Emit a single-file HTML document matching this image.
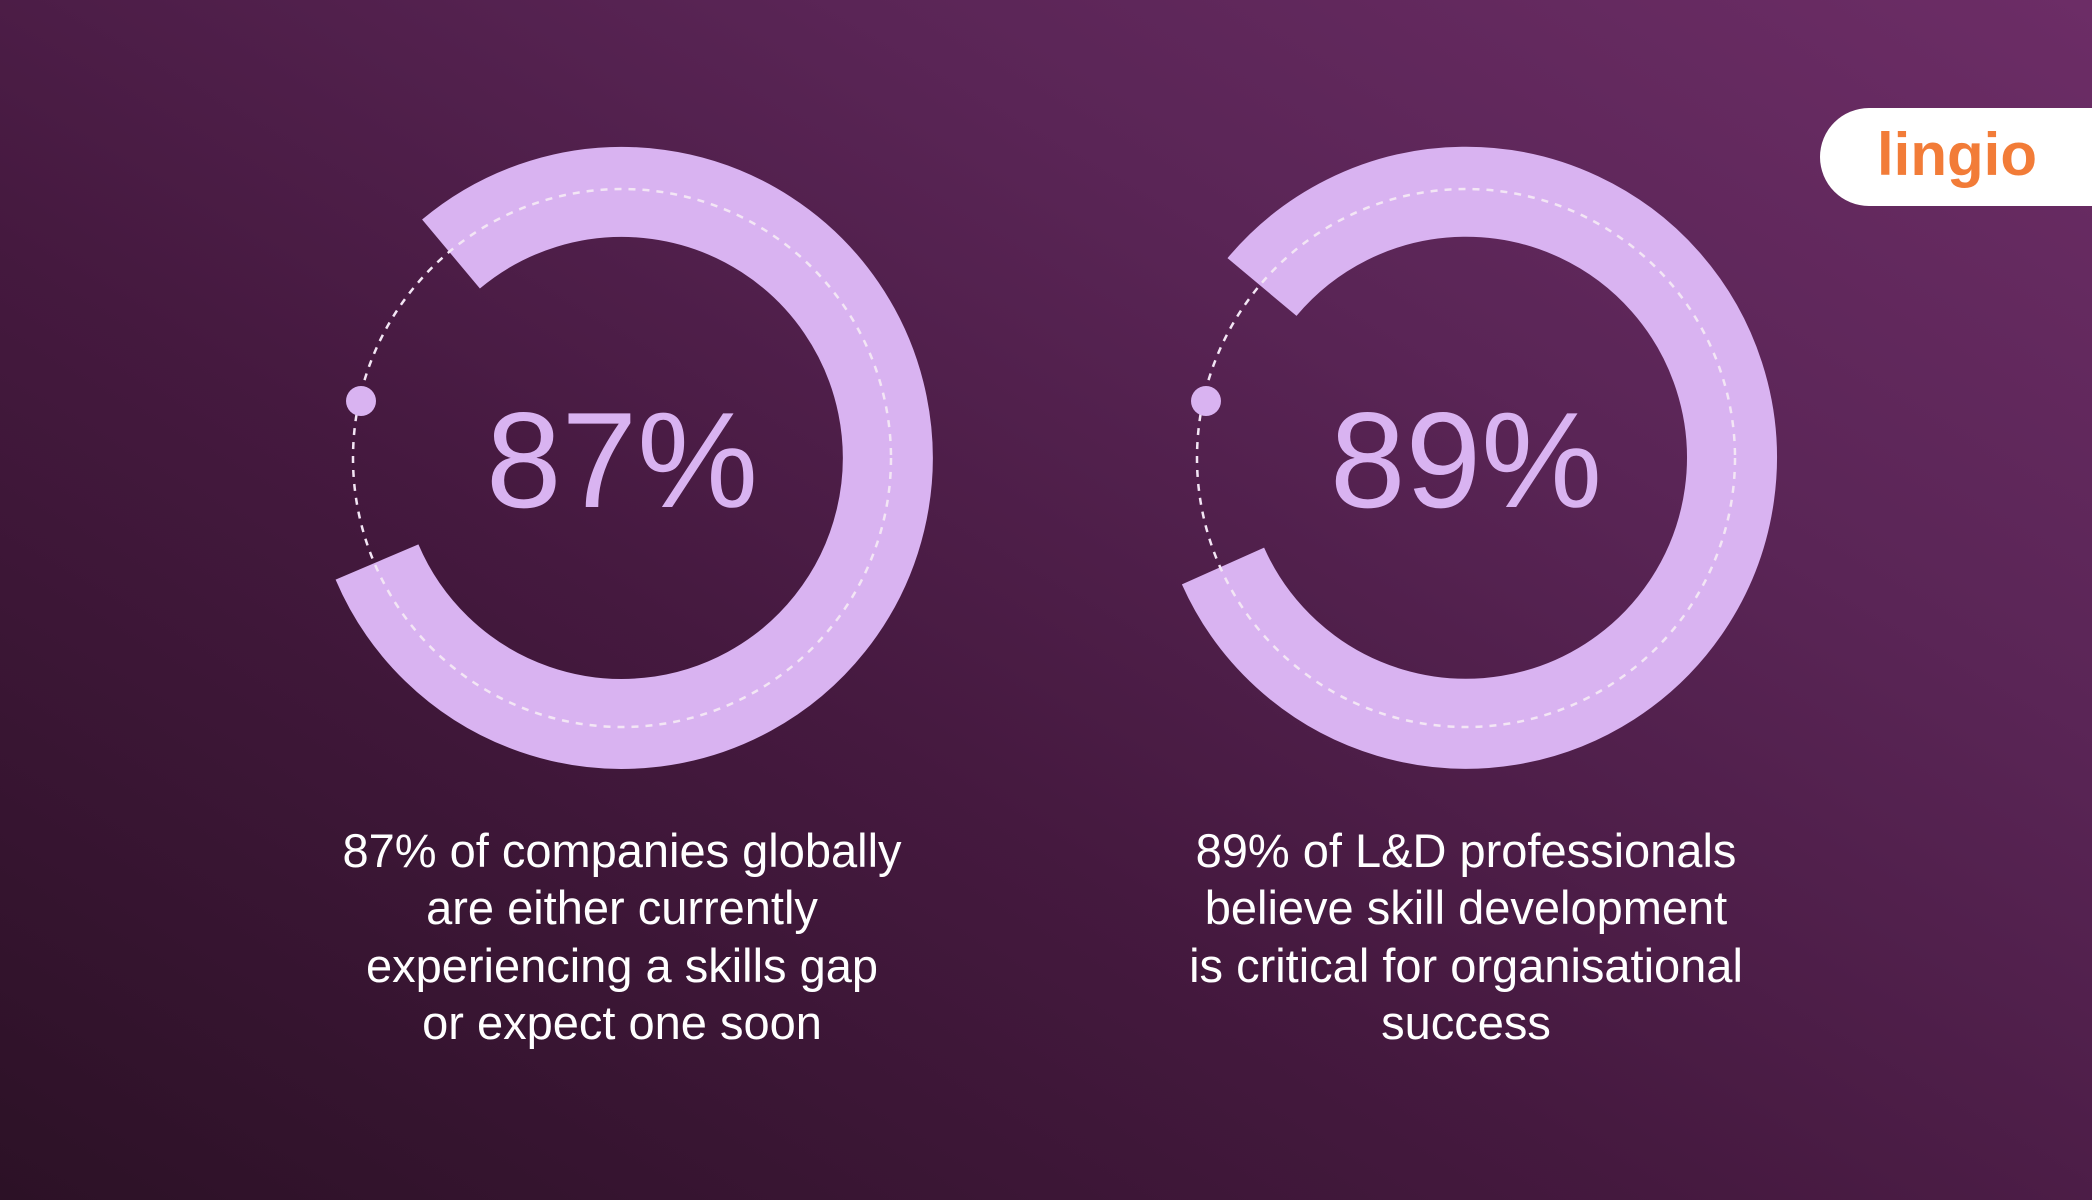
<!DOCTYPE html>
<html><head><meta charset="utf-8"><style>
html,body{margin:0;padding:0}
body{width:2092px;height:1200px;overflow:hidden;background:linear-gradient(30deg,#2c1126 0%,#45193f 40%,#5a2556 70%,#6c2d66 100%);font-family:"Liberation Sans",sans-serif}
</style></head><body>
<svg width="2092" height="1200" viewBox="0 0 2092 1200" style="position:absolute;left:0;top:0">
<g fill="none">
<path d="M451,254 A266,266 0 1 1 377,562" stroke="#d9b3f1" stroke-width="90"/>
<circle cx="622" cy="458" r="269" stroke="#f3e6f5" stroke-width="2.5" stroke-dasharray="7 7"/>
<path d="M1262,287 A266,266 0 1 1 1223,566" stroke="#d9b3f1" stroke-width="90"/>
<circle cx="1466" cy="458" r="269" stroke="#f3e6f5" stroke-width="2.5" stroke-dasharray="7 7"/>
</g>
<circle cx="361" cy="401" r="15" fill="#d9b3f1"/>
<circle cx="1206" cy="401" r="15" fill="#d9b3f1"/>
<g fill="#d9b3f1" font-size="136" text-anchor="middle" font-family="Liberation Sans, sans-serif">
<text x="622" y="507">87%</text>
<text x="1466" y="507">89%</text>
</g>
<g fill="#ffffff" font-size="47" text-anchor="middle" font-family="Liberation Sans, sans-serif">
<text x="622" y="867">87% of companies globally</text>
<text x="622" y="924">are either currently</text>
<text x="622" y="982">experiencing a skills gap</text>
<text x="622" y="1039">or expect one soon</text>
<text x="1466" y="867">89% of L&amp;D professionals</text>
<text x="1466" y="924">believe skill development</text>
<text x="1466" y="982">is critical for organisational</text>
<text x="1466" y="1039">success</text>
</g>
<path d="M1869,108 H2092 V206 H1869 A49,49 0 0 1 1869,108 Z" fill="#ffffff"/>
<text x="1957" y="175" text-anchor="middle" font-size="60" font-weight="bold" fill="#f27c38" font-family="Liberation Sans, sans-serif">lingio</text>
</svg>
</body></html>
